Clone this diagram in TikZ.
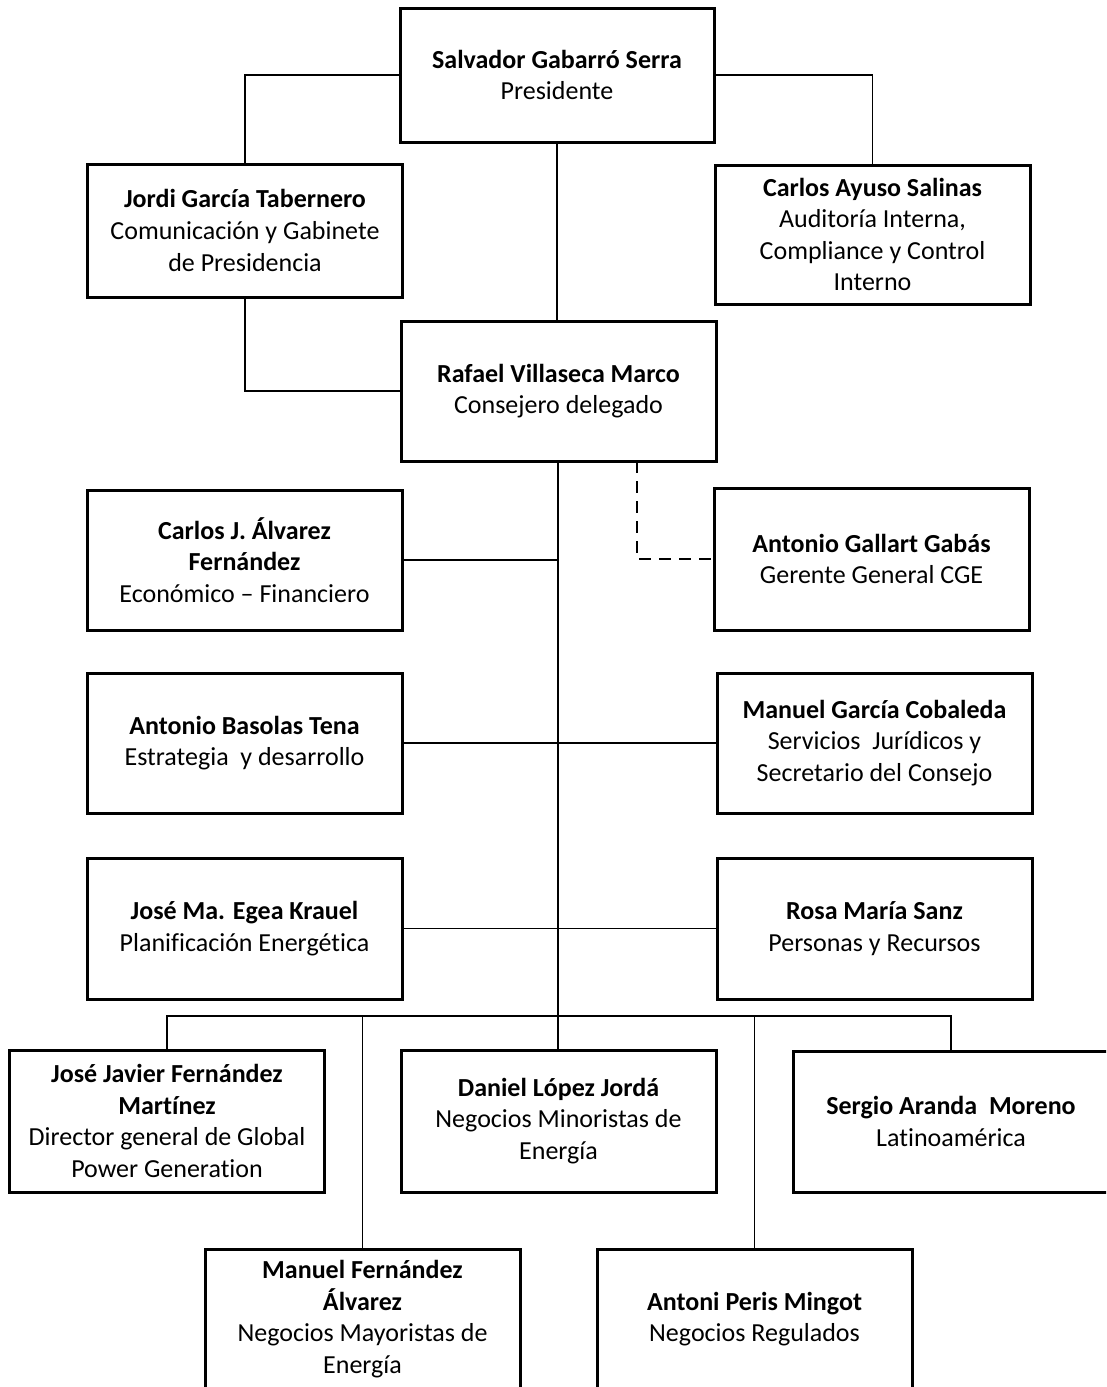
\documentclass[tikz,border=0pt]{standalone}
\usepackage{fontspec}
\setmainfont{Carlito}[Ligatures={NoCommon}]
\begin{document}
\begin{tikzpicture}[x=1pt,y=-1pt,
  unit/.style={draw, line width=3pt, rectangle, align=center, inner sep=0pt,
    minimum width=315pt, minimum height=140pt,
    font=\fontsize{26}{31.6}\selectfont},
  link/.style={line width=1.5pt},
  dotted link/.style={line width=1.5pt, dash pattern=on 12pt off 8pt}]
\useasboundingbox (0,0) rectangle (1106,1387);
\clip (0,0) rectangle (1106,1387);

% top level
\node[unit, minimum width=314pt, minimum height=134pt] (sal) at (557,75)
  {\textbf{Salvador Gabarró Serra}\\Presidente};
\node[unit, minimum height=133pt] (jordi) at (245,230.5)
  {\textbf{Jordi García Tabernero}\\Comunicación y Gabinete\\de Presidencia};
\node[unit, minimum height=139pt] (ayuso) at (872.5,234.5)
  {\textbf{Carlos Ayuso Salinas}\\Auditoría Interna,\\Compliance y Control\\Interno};
\node[unit] (raf) at (558.5,391)
  {\textbf{Rafael Villaseca Marco}\\Consejero delegado};

% direct reports of the CEO
\node[unit] (cj) at (244.5,560)
  {\textbf{Carlos J. Álvarez}\\\textbf{Fernández}\\Económico -- Financiero};
\node[unit, minimum height=142pt] (gallart) at (871.5,559)
  {\textbf{Antonio Gallart Gabás}\\Gerente General CGE};
\node[unit] (basolas) at (244.5,743)
  {\textbf{Antonio Basolas Tena}\\Estrategia\ \ y desarrollo};
\node[unit] (mg) at (874.5,743)
  {\textbf{Manuel García Cobaleda}\\Servicios\ \ Jurídicos y\\Secretario del Consejo};
\node[unit, minimum height=141pt] (jm) at (244.5,928.5)
  {\textbf{José Ma. Egea Krauel}\\Planificación Energética};
\node[unit, minimum height=141pt] (rosa) at (874.5,928.5)
  {\textbf{Rosa María Sanz}\\Personas y Recursos};

% business units
\node[unit, minimum height=142pt] (jj) at (167,1121)
  {\textbf{José Javier Fernández}\\\textbf{Martínez}\\Director general de Global\\Power Generation};
\node[unit, minimum height=142pt] (daniel) at (558.5,1121)
  {\textbf{Daniel López Jordá}\\Negocios Minoristas de\\Energía};
\node[unit, minimum height=141pt] (sergio) at (951,1121.5)
  {\textbf{Sergio Aranda\ \ Moreno}\\Latinoamérica};
\node[unit] (mf) at (362.5,1319)
  {\textbf{Manuel Fernández}\\\textbf{Álvarez}\\Negocios Mayoristas de\\Energía};
\node[unit] (ap) at (754.5,1319)
  {\textbf{Antoni Peris Mingot}\\Negocios Regulados};

% connectors
\coordinate (bus) at (558,1016);
\coordinate (dashtop) at (637,461);
\draw[link] (sal.west) -| (jordi.north);
\draw[link] (sal.east) -| (ayuso.north);
\draw[link] (sal.south) -- (sal.south |- raf.north);
\draw[link] (jordi.south) |- (raf.west);
\draw[link] (raf.south -| bus) -- (bus);
\draw[dotted link] (dashtop) |- (gallart.west);
\draw[link] (cj.east) -- (cj.east -| bus);
\draw[link] (basolas.east) -- (mg.west);
\draw[link] (jm.east) -- (rosa.west);
\draw[link] (jj.north) |- (bus) -| (sergio.north);
\draw[link] (bus) -| (mf.north);
\draw[link] (bus) -- (bus |- daniel.north);
\draw[link] (bus) -| (ap.north);
\end{tikzpicture}
\end{document}
